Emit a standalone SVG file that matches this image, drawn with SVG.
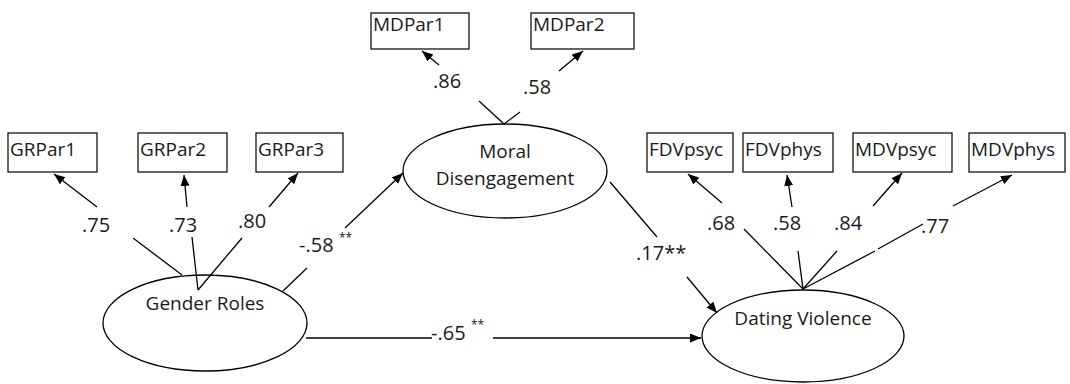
<svg xmlns="http://www.w3.org/2000/svg" width="1070" height="384" viewBox="0 0 1070 384">
<style>
.box{fill:#fff;stroke:#000;stroke-width:1.2}
.lat{fill:#fff;stroke:#000;stroke-width:1.3}
.bt{font-family:"Open Sans","DejaVu Sans",sans-serif;font-size:19px;fill:#1a1a1a}
.lt{font-family:"Open Sans","DejaVu Sans",sans-serif;font-size:19px;fill:#1a1a1a;text-anchor:middle}
.nt{font-family:"Open Sans","DejaVu Sans",sans-serif;font-size:20px;fill:#1a1a1a;text-anchor:middle}
.lb{font-family:"Open Sans","DejaVu Sans",sans-serif;font-size:20px;fill:#1a1a1a}
.sup{font-family:"Open Sans","DejaVu Sans",sans-serif;font-size:12px;fill:#1a1a1a}
.c line{stroke:#000;stroke-width:1.3;fill:none}
.a{marker-end:url(#arr)}
</style>
<defs>
<marker id="arr" markerUnits="userSpaceOnUse" markerWidth="12" markerHeight="10" refX="11" refY="4.5" orient="auto">
<path d="M0,0 L11,4.5 L0,9 z" fill="#000"/>
</marker>
</defs>
<rect width="1070" height="384" fill="#fff"/>
<g id="GRPar1"><rect class="box" x="8" y="133" width="89" height="39"/><text class="bt" x="10" y="156">GRPar1</text></g>
<g id="GRPar2"><rect class="box" x="138" y="133" width="89" height="39"/><text class="bt" x="140" y="156">GRPar2</text></g>
<g id="GRPar3"><rect class="box" x="256" y="133" width="87" height="39"/><text class="bt" x="258" y="156">GRPar3</text></g>
<g id="MDPar1"><rect class="box" x="371" y="13" width="98" height="36"/><text class="bt" x="373" y="31">MDPar1</text></g>
<g id="MDPar2"><rect class="box" x="531" y="13" width="103" height="36"/><text class="bt" x="533" y="31">MDPar2</text></g>
<g id="FDVpsyc"><rect class="box" x="647" y="133" width="86" height="39"/><text class="bt" x="649" y="156">FDVpsyc</text></g>
<g id="FDVphys"><rect class="box" x="743" y="133" width="90" height="39"/><text class="bt" x="745" y="156">FDVphys</text></g>
<g id="MDVpsyc"><rect class="box" x="853" y="133" width="99" height="39"/><text class="bt" x="855" y="156">MDVpsyc</text></g>
<g id="MDVphys"><rect class="box" x="969" y="133" width="96" height="39"/><text class="bt" x="971" y="156">MDVphys</text></g>
<g id="GenderRoles"><ellipse class="lat" cx="205" cy="323" rx="102" ry="48"/><text class="lt" x="205" y="310">Gender Roles</text></g>
<g id="MoralDisengagement"><ellipse class="lat" cx="505" cy="171" rx="102" ry="47"/><text class="lt" x="505" y="158">Moral</text><text class="lt" x="505" y="185">Disengagement</text></g>
<g id="DatingViolence"><ellipse class="lat" cx="803" cy="336" rx="101" ry="46"/><text class="lt" x="803" y="325">Dating Violence</text></g>
<g id="connectors" class="c">
<line x1="182" y1="275" x2="133" y2="238"/><line class="a" x1="97" y1="207" x2="54" y2="174"/>
<line x1="198" y1="290" x2="192" y2="237"/><line class="a" x1="187" y1="207" x2="184" y2="175"/>
<line x1="198" y1="290" x2="242" y2="238"/><line class="a" x1="269" y1="207" x2="298" y2="173"/>
<line x1="283" y1="291" x2="307" y2="268"/><line class="a" x1="345" y1="228" x2="403" y2="173"/>
<line x1="504" y1="124" x2="479" y2="101"/><line class="a" x1="439" y1="65" x2="422" y2="51"/>
<line x1="504" y1="124" x2="520" y2="112"/><line class="a" x1="559" y1="71" x2="583" y2="51"/>
<line x1="610" y1="182" x2="657" y2="237"/><line class="a" x1="687" y1="277" x2="717" y2="313"/>
<line x1="306" y1="338" x2="432" y2="338"/><line class="a" x1="493" y1="338" x2="701" y2="338"/>
<line x1="803" y1="289" x2="744" y2="229"/><line class="a" x1="722" y1="203" x2="688" y2="174"/>
<line x1="803" y1="289" x2="798" y2="251"/><line class="a" x1="792" y1="207" x2="787" y2="175"/>
<line x1="803" y1="289" x2="837" y2="251"/><line class="a" x1="873" y1="206" x2="902" y2="173"/>
<line x1="803" y1="289" x2="875" y2="251"/><line x1="878" y1="249" x2="923" y2="224"/><line class="a" x1="953" y1="206" x2="1012" y2="175"/>
</g>
<g id="labels">
<text class="nt" x="96" y="232">.75</text>
<text class="nt" x="183" y="232">.73</text>
<text class="nt" x="252" y="228">.80</text>
<text class="lb" x="299" y="252">-.58</text><text class="sup" x="339" y="242">**</text>
<text class="nt" x="447" y="88">.86</text>
<text class="nt" x="537" y="94">.58</text>
<text class="lb" x="636" y="260">.17**</text>
<text class="lb" x="431" y="340">-.65</text><text class="sup" x="471" y="329">**</text>
<text class="nt" x="721" y="230">.68</text>
<text class="nt" x="787" y="230">.58</text>
<text class="nt" x="848" y="230">.84</text>
<text class="lb" x="921" y="233">.77</text>
</g>
</svg>
